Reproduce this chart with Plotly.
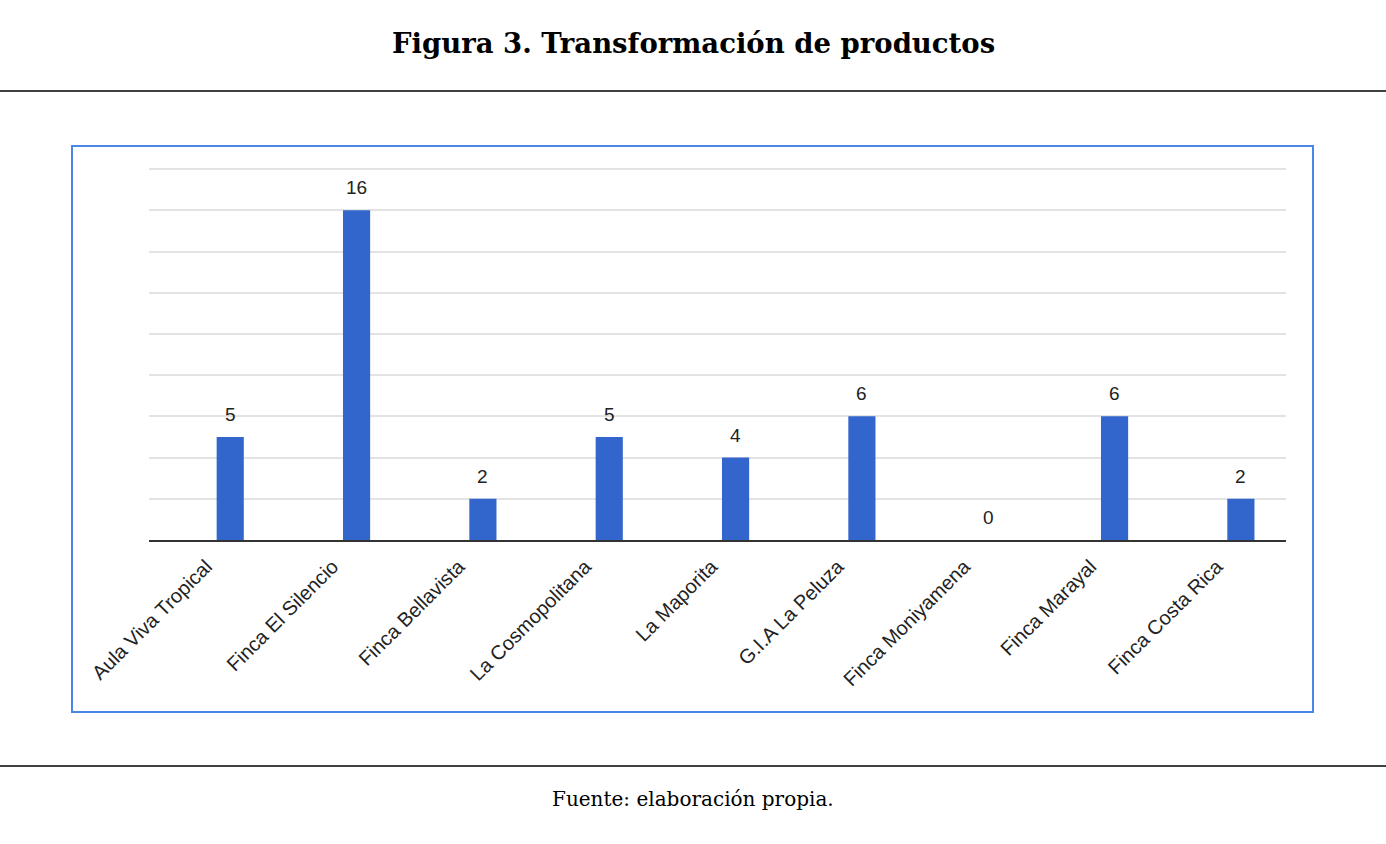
import plotly.graph_objects as go

categories = ["Aula Viva Tropical", "Finca El Silencio", "Finca Bellavista",
              "La Cosmopolitana", "La Maporita", "G.I.A La Peluza",
              "Finca Moniyamena", "Finca Marayal", "Finca Costa Rica"]
values = [5, 16, 2, 5, 4, 6, 0, 6, 2]

title_text = "Figura 3. Transformación de productos"
source_text = "Fuente: elaboración propia."

W, H = 1386, 844
Y_MAX = 18.2
L, R, B = 149, 100, 304
T = int(round(540 - 371 * Y_MAX / 18))
PW = W - L - R
PH = H - T - B


def px_x(x):
    return (x - L) / PW


def px_y(y):
    return (H - B - y) / PH


fig = go.Figure()
fig.add_trace(go.Bar(
    x=categories, y=values,
    marker=dict(color="#3366cc", line=dict(width=0)),
    width=0.215,
    hoverinfo="skip",
))

annotations = []
for c, v in zip(categories, values):
    annotations.append(dict(
        x=c, y=v, xref="x", yref="y", text=str(v), showarrow=False,
        yanchor="bottom", yshift=10,
        font=dict(family="Liberation Sans, Arial, sans-serif", size=19, color="#222222"),
    ))

annotations.append(dict(
    x=px_x(W / 2), y=px_y(43), xref="paper", yref="paper", text="<b>" + title_text + "</b>",
    showarrow=False, xanchor="center", yanchor="middle",
    font=dict(family="DejaVu Serif, Liberation Serif, serif", size=27.5, color="#000000"),
))
annotations.append(dict(
    x=px_x(W / 2), y=px_y(799), xref="paper", yref="paper", text=source_text,
    showarrow=False, xanchor="center", yanchor="middle",
    font=dict(family="DejaVu Serif, Liberation Serif, serif", size=20, color="#000000"),
))

shapes = [
    dict(type="line", xref="paper", yref="paper", x0=px_x(0), x1=px_x(W),
         y0=px_y(91), y1=px_y(91), line=dict(color="#000000", width=1.5)),
    dict(type="line", xref="paper", yref="paper", x0=px_x(0), x1=px_x(W),
         y0=px_y(766), y1=px_y(766), line=dict(color="#000000", width=1.5)),
    dict(type="rect", xref="paper", yref="paper", x0=px_x(72), x1=px_x(1313),
         y0=px_y(146), y1=px_y(712), line=dict(color="#4a86e8", width=2)),
]

fig.update_layout(
    width=W, height=H,
    margin=dict(l=L, r=R, t=T, b=B, pad=0),
    paper_bgcolor="white", plot_bgcolor="white",
    showlegend=False,
    annotations=annotations,
    shapes=shapes,
    xaxis=dict(
        range=[-0.643, 8.357],
        tickangle=-45,
        tickfont=dict(family="Liberation Sans, Arial, sans-serif", size=20, color="#222222"),
        ticklabelshift=-24, ticklabelstandoff=5,
        showline=True, linecolor="#333333", linewidth=2,
        showgrid=False, ticks="", fixedrange=True,
    ),
    yaxis=dict(
        range=[0, Y_MAX], dtick=2, showticklabels=False,
        showgrid=True, gridcolor="#e3e3e3", gridwidth=2,
        zeroline=False, ticks="", fixedrange=True,
    ),
)

fig.write_html("out.html", config={"displayModeBar": False},
               post_script="document.body.style.margin='0';document.body.style.overflow='hidden';")
